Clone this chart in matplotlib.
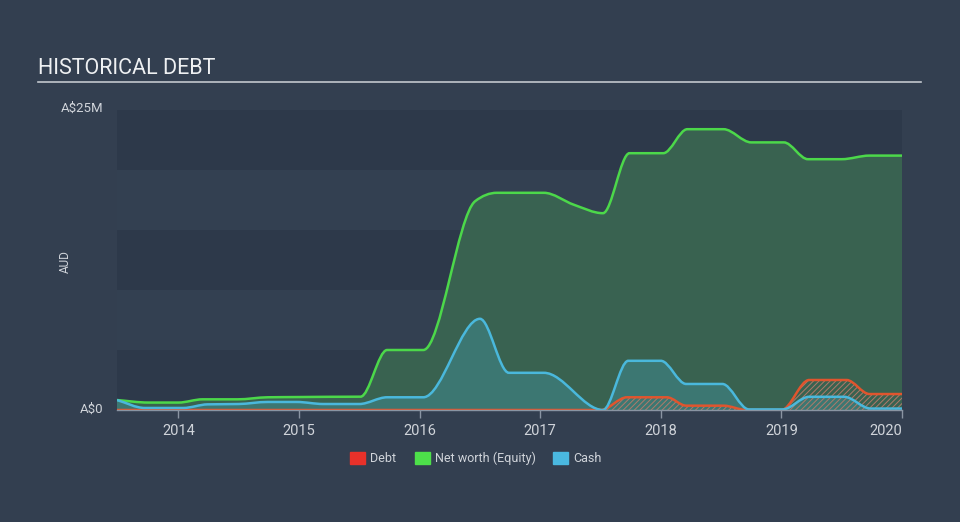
import matplotlib
matplotlib.use('Agg')
import matplotlib.pyplot as plt
from matplotlib.patches import Rectangle, PathPatch
from matplotlib.path import Path
import numpy as np

plt.rcParams['font.family'] = ['Roboto', 'DejaVu Sans']
plt.rcParams['hatch.linewidth'] = 0.7

# values in A$ millions, x in fractional years
equity_x = [2013.49, 2013.75, 2014.0, 2014.2, 2014.49, 2014.74, 2015.0, 2015.25, 2015.51,
            2015.73, 2016.03, 2016.46, 2016.64, 2017.03,
            2017.28, 2017.52, 2017.74, 2018.02, 2018.22,
            2018.52, 2018.75, 2019.02, 2019.22, 2019.5, 2019.73, 2020.0]
equity = [0.83, 0.62, 0.62, 0.89, 0.89, 1.06, 1.08, 1.1, 1.11,
          5.0, 5.0, 17.4, 18.1, 18.1,
          17.1, 16.4, 21.4, 21.4, 23.4,
          23.4, 22.3, 22.3, 20.9, 20.9, 21.2, 21.2]

cash_x = [2013.49, 2013.72, 2014.04, 2014.24, 2014.5, 2014.74, 2014.98, 2015.2, 2015.5,
          2015.73, 2016.03, 2016.5, 2016.74, 2017.03,
          2017.52, 2017.73, 2018.0, 2018.21, 2018.51,
          2018.73, 2019.01, 2019.23, 2019.52, 2019.74, 2020.0]
cash = [0.83, 0.17, 0.17, 0.47, 0.5, 0.67, 0.67, 0.5, 0.5,
        1.06, 1.06, 7.6, 3.1, 3.1,
        0.0, 4.1, 4.1, 2.17, 2.17,
        0.05, 0.05, 1.1, 1.1, 0.12, 0.12]

debt_x = [2013.49, 2017.5, 2017.72, 2018.05, 2018.21, 2018.52, 2018.71, 2019.0,
          2019.23, 2019.54, 2019.73, 2020.0]
debt = [0.0, 0.0, 1.06, 1.06, 0.36, 0.36, 0.0, 0.0,
        2.5, 2.5, 1.33, 1.33]

years = [2014, 2015, 2016, 2017, 2018, 2019, 2020]


def monotone_path(xs, ys, close=False):
    # bezier path through the points, monotone in x (like d3 curveMonotoneX)
    x = np.asarray(xs, float)
    y = np.asarray(ys, float)
    h = np.diff(x)
    s = np.diff(y) / h
    m = np.zeros(len(x))
    for i in range(1, len(x) - 1):
        if s[i - 1] * s[i] <= 0:
            m[i] = 0
        else:
            m[i] = (s[i - 1] * h[i] + s[i] * h[i - 1]) / (h[i - 1] + h[i])
            lim = 2 * min(abs(s[i - 1]), abs(s[i]))
            m[i] = np.sign(m[i]) * min(abs(m[i]), lim)
    m[0] = s[0]
    m[-1] = s[-1]
    verts = [(x[0], y[0])]
    codes = [Path.MOVETO]
    for i in range(len(x) - 1):
        d = h[i] / 3
        verts += [(x[i] + d, y[i] + m[i] * d), (x[i + 1] - d, y[i + 1] - m[i + 1] * d), (x[i + 1], y[i + 1])]
        codes += [Path.CURVE4] * 3
    if close:
        verts += [(x[-1], 0), (x[0], 0), (x[0], y[0])]
        codes += [Path.LINETO, Path.LINETO, Path.CLOSEPOLY]
    return Path(verts, codes)


bg = '#333f50'
fig = plt.figure(figsize=(9.6, 5.22), dpi=100, facecolor=bg)
ax = fig.add_axes([117 / 960, 1 - 410 / 522, 785 / 960, 300 / 522])
ax.set_facecolor('#2d394a')

# horizontal bands
for i in range(5):
    if i % 2 == 1:
        ax.axhspan(i * 5, (i + 1) * 5, color='#334051', lw=0, zorder=0)

ax.add_patch(PathPatch(monotone_path(equity_x, equity, True), facecolor='#3a6551', alpha=0.95, lw=0, zorder=1))
ax.add_patch(PathPatch(monotone_path(equity_x, equity), facecolor='none', edgecolor='#4cd84a', lw=1.8, zorder=4))

ax.add_patch(PathPatch(monotone_path(cash_x, cash, True), facecolor='#3f8c94', alpha=0.5, lw=0, zorder=2))
ax.add_patch(PathPatch(monotone_path(cash_x, cash), facecolor='none', edgecolor='#4ab8dc', lw=1.8, zorder=5))

ax.add_patch(PathPatch(monotone_path(debt_x, debt, True), facecolor='none', edgecolor='#b07a6a',
                       hatch='//////', lw=0, zorder=3))
ax.add_patch(PathPatch(monotone_path(debt_x, debt), facecolor='none', edgecolor='#e0552e', lw=1.8, zorder=4))

ax.set_xlim(2013.49, 2020.0)
ax.set_ylim(0, 25)
ax.set_xticks(years)
ax.set_xticklabels([str(y) for y in years])
ax.get_xticklabels()[-1].set_ha('right')
ax.set_yticks([])
for s in ['top', 'right', 'left']:
    ax.spines[s].set_visible(False)
ax.spines['bottom'].set_color('#8a95a3')
ax.spines['bottom'].set_linewidth(1.0)
ax.spines['bottom'].set_zorder(6)
ax.tick_params(axis='x', colors='#8a95a3', length=6, width=1, labelcolor='#d0d4da',
               labelsize=10.5, pad=4)

# y labels
fig.text(103 / 960, 1 - 108 / 522, 'A$25M', color='#d0d4da', fontsize=9.5, ha='right', va='center')
fig.text(103 / 960, 1 - 409 / 522, 'A$0', color='#d0d4da', fontsize=9.5, ha='right', va='center')
fig.text(65 / 960, 1 - 262 / 522, 'AUD', color='#d0d4da', fontsize=8.5, ha='center', va='center', rotation=90)

# title
fig.text(38 / 960, 1 - 69 / 522, 'HISTORICAL DEBT', color='#eef0f2', fontsize=15.5, ha='left', va='center')
fig.add_artist(plt.Line2D([38 / 960, 921 / 960], [1 - 82 / 522, 1 - 82 / 522], color='#c2c7ce', lw=1.2))

# legend
items = [('Debt', '#e8312a', 350), ('Net worth (Equity)', '#4de04a', 415), ('Cash', '#4ab8e0', 553)]
for label, c, x in items:
    fig.add_artist(Rectangle((x / 960, 1 - 464 / 522), 15 / 960, 12 / 522, color=c, transform=fig.transFigure))
    fig.text((x + 20) / 960, 1 - 458 / 522, label, color='#d0d4da', fontsize=9, ha='left', va='center')

fig.savefig('out.png', dpi=100, facecolor=bg)
